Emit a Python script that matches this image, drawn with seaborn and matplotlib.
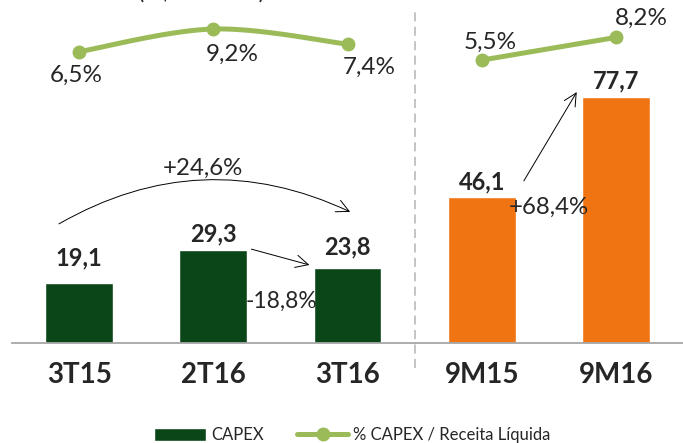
import numpy as np
import matplotlib
matplotlib.use("Agg")
import matplotlib.pyplot as plt
from matplotlib.lines import Line2D
from matplotlib.patches import Patch
import seaborn as sns

# =======================
# DATA
# =======================
CATEGORIES = ["3T15", "2T16", "3T16", "9M15", "9M16"]
CAPEX = [19.1, 29.3, 23.8, 46.1, 77.7]
CAPEX_LABELS = ["19,1", "29,3", "23,8", "46,1", "77,7"]
PCT_RECEITA = [6.5, 9.2, 7.4, 5.5, 8.2]
PCT_LABELS = ["6,5%", "9,2%", "7,4%", "5,5%", "8,2%"]
LINE_GROUPS = [[0, 1, 2], [3, 4]]
VARIATIONS = ["+24,6%", "-18,8%", "+68,4%"]

# =======================
# STYLE / LAYOUT
# =======================
GREEN = "#0B4619"
ORANGE = "#F07412"
LINE_GREEN = "#9BBB59"
AXIS_GREY = "#A6A6A6"
BAR_COLORS = [GREEN, GREEN, GREEN, ORANGE, ORANGE]

# offsets (points) of the value labels above the bar tops
CAPEX_LABEL_DY = [18, 12, 15, 11, 12]
# offsets (points) of the percentage labels relative to the markers
PCT_LABEL_OFF = [(-2, -17), (14, -18), (16, -17), (6, 13), (18, 14)]


def bezier_smooth(xs, ys, n=40):
    # Excel-like smoothed line (Catmull-Rom tangents as Bezier handles)
    pts = np.column_stack([xs, ys]).astype(float)
    out = []
    for i in range(len(pts) - 1):
        p_prev = pts[max(i - 1, 0)]
        p0, p1 = pts[i], pts[i + 1]
        p_next = pts[min(i + 2, len(pts) - 1)]
        c1 = p0 + (p1 - p_prev) / 6
        c2 = p1 - (p_next - p0) / 6
        t = np.linspace(0, 1, n)[:, None]
        seg = ((1 - t) ** 3) * p0 + 3 * ((1 - t) ** 2) * t * c1 + 3 * (1 - t) * t ** 2 * c2 + t ** 3 * p1
        out.append(seg)
    seg = np.vstack(out)
    return seg[:, 0], seg[:, 1]


def main():
    sns.set_style("white")
    plt.rcParams["font.family"] = ["Lato", "DejaVu Sans"]

    fig = plt.figure(figsize=(6.83, 4.43), dpi=100)
    ax = fig.add_axes([12 / 683, 100 / 443, 671 / 683, 343 / 443])

    sns.barplot(x=CATEGORIES, y=CAPEX, hue=CATEGORIES, palette=BAR_COLORS,
                legend=False, width=0.505, saturation=1, ax=ax)
    ax.set_xlim(-0.5, -0.5 + 671 / 134.5)
    ax.set_ylim(0, 343 / 3.16)

    for s in ["top", "left", "right"]:
        ax.spines[s].set_visible(False)
    ax.spines["bottom"].set_color(AXIS_GREY)
    ax.spines["bottom"].set_linewidth(1.3)
    ax.set_yticks([])
    ax.set_xticks(range(len(CATEGORIES)))
    ax.set_xticklabels(CATEGORIES, fontsize=20, fontweight="bold")
    ax.tick_params(axis="x", which="major", length=0, pad=14)
    ax.set_xticks(np.arange(-0.5, len(CATEGORIES), 1), minor=True)
    ax.tick_params(axis="x", which="minor", length=7, width=1.3, color=AXIS_GREY)
    ax.set_xlabel("")
    ax.set_ylabel("")

    # value labels
    for i, (v, lab) in enumerate(zip(CAPEX, CAPEX_LABELS)):
        ax.annotate(lab, (i, v), xytext=(0, CAPEX_LABEL_DY[i]), textcoords="offset points",
                    ha="center", va="center", fontsize=17, fontweight="bold")

    # dashed separator between quarters and 9 months
    ax.plot([2.5, 2.5], [-8, 106], ls=(0, (5, 3)), color="#BFBFBF", lw=1.3, clip_on=False)

    # variation arrows
    arrow = dict(arrowstyle="->,head_length=0.9,head_width=0.45", lw=0.7, color="black",
                 shrinkA=0, shrinkB=0)
    ax.annotate("", xy=(2.02, 41.5), xytext=(-0.15, 37.7),
                arrowprops=dict(arrow, connectionstyle="arc3,rad=-0.26"))
    ax.text(0.92, 55.4, VARIATIONS[0], ha="center", va="center", fontsize=17.3)
    ax.annotate("", xy=(1.716, 24.7), xytext=(1.284, 29.7), arrowprops=arrow)
    ax.text(1.507, 13.3, VARIATIONS[1], ha="center", va="center", fontsize=16.5)
    ax.annotate("", xy=(3.708, 79.4), xytext=(3.314, 51.3), arrowprops=arrow)
    ax.text(3.5, 43.0, VARIATIONS[2], ha="center", va="center", fontsize=17.3)

    # % CAPEX / Receita Liquida line
    ax2 = ax.twinx()
    ax2.set_ylim(6.5 - 291.3 / 8.4, 6.5 + 51.7 / 8.4)
    ax2.axis("off")
    for grp in LINE_GROUPS:
        xs = np.array(grp, dtype=float)
        ys = np.array([PCT_RECEITA[i] for i in grp])
        sx, sy = bezier_smooth(xs, ys)
        ax2.plot(sx, sy, color=LINE_GREEN, lw=3.6, solid_capstyle="round")
        ax2.plot(xs, ys, "o", color=LINE_GREEN, ms=9)
    for i, (v, lab) in enumerate(zip(PCT_RECEITA, PCT_LABELS)):
        ax2.annotate(lab, (i, v), xytext=PCT_LABEL_OFF[i], textcoords="offset points",
                     ha="center", va="center", fontsize=17.5)

    # title cut off at the top of the picture (only its lowest edge shows)
    fig.text(0.295, 1.0 + 1 / 443, "(R$ milhões)", ha="center", va="baseline", fontsize=17)

    handles = [
        Patch(facecolor=GREEN, label="CAPEX"),
        Line2D([0], [0], color=LINE_GREEN, lw=3.6, marker="o", ms=9, label="% CAPEX / Receita Líquida"),
    ]
    fig.legend(handles=handles, loc="center", bbox_to_anchor=(0.516, 8 / 443), ncol=2,
               frameon=False, fontsize=12, handlelength=3.1, handleheight=0.8,
               columnspacing=2.0, handletextpad=0.3)

    fig.savefig("out.png", dpi=100)
    plt.close(fig)


if __name__ == "__main__":
    main()
